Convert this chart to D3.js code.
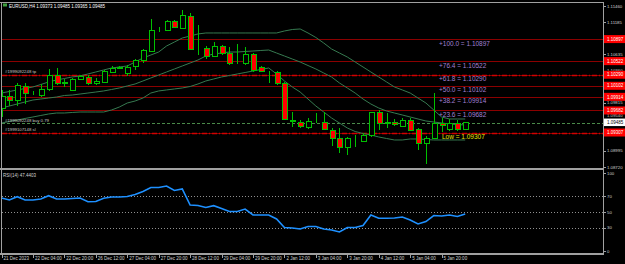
<!DOCTYPE html>
<html>
<head>
<meta charset="utf-8">
<script src="https://cdnjs.cloudflare.com/ajax/libs/d3/7.8.5/d3.min.js"></script>
<style>
  body { margin: 0; background: #000; }
  svg { display: block; }
  text { font-family: "Liberation Sans", Arial, sans-serif; }
</style>
</head>
<body>
<div id="chart"></div>
<script>
// EURUSD H4, 21 Dec 2023 12:00 .. 8 Jan 2024 08:00
const title = "EURUSD,H4  1.09373 1.09485 1.09365 1.09485";

const opens  = [1.09724,1.09920,1.09860,1.10099,1.09975,1.09945,1.10048,1.10286,1.10150,1.10031,
                1.10218,1.10252,1.10150,1.10167,1.10337,1.10410,1.10320,1.10439,1.10541,1.10694,
                1.11050,1.11052,1.11205,1.11086,1.11290,1.10728,1.10745,1.10609,1.10779,1.10660,
                1.10490,1.10490,1.10643,1.10422,1.10337,1.10337,1.10150,1.09520,1.09486,1.09401,
                1.09503,1.09486,1.09350,1.09214,1.09060,1.09197,1.09163,1.09265,1.09656,1.09469,
                1.09486,1.09418,1.09520,1.09367,1.09129,1.09214,1.09469,1.09367,1.09469,1.09373];
const highs  = [1.10031,1.10031,1.10150,1.10150,1.10014,1.10133,1.10388,1.10405,1.10218,1.10235,
                1.10286,1.10286,1.10235,1.10371,1.10439,1.10439,1.10456,1.10558,1.10728,1.11239,
                1.11103,1.11222,1.11222,1.11392,1.11341,1.11137,1.10779,1.10847,1.10790,1.10762,
                1.10813,1.10762,1.10660,1.10439,1.10354,1.10354,1.10167,1.09656,1.09520,1.09554,
                1.09639,1.09656,1.09384,1.09384,1.09231,1.09265,1.09299,1.09656,1.09690,1.09639,
                1.09537,1.09554,1.09554,1.09384,1.09248,1.09979,1.09554,1.09537,1.09520,1.09485];
const lows   = [1.09571,1.09758,1.09758,1.09792,1.09945,1.09911,1.10014,1.10116,1.10082,1.10014,
                1.10201,1.10116,1.10116,1.10150,1.10320,1.10395,1.10269,1.10371,1.10490,1.10677,
                1.11018,1.11035,1.11086,1.11069,1.10711,1.10626,1.10558,1.10592,1.10626,1.10456,
                1.10473,1.10456,1.10337,1.10337,1.10150,1.10116,1.09520,1.09401,1.09384,1.09367,
                1.09469,1.09350,1.09077,1.08958,1.08924,1.09060,1.09146,1.09231,1.09350,1.09384,
                1.09418,1.09401,1.09333,1.09009,1.08771,1.09197,1.09316,1.09333,1.09333,1.09365];
const closes = [1.09928,1.09860,1.10116,1.09979,1.09985,1.10048,1.10286,1.10150,1.10165,1.10218,
                1.10269,1.10150,1.10184,1.10354,1.10405,1.10420,1.10422,1.10541,1.10711,1.11052,
                1.11058,1.11205,1.11103,1.11307,1.10728,1.10735,1.10609,1.10779,1.10660,1.10490,
                1.10495,1.10643,1.10371,1.10354,1.10345,1.10150,1.09537,1.09510,1.09418,1.09503,
                1.09510,1.09367,1.09214,1.09060,1.09214,1.09205,1.09265,1.09650,1.09469,1.09480,
                1.09452,1.09520,1.09350,1.09129,1.09214,1.09469,1.09427,1.09469,1.09367,1.09485];

const bandUpper  = [1.09979,1.10005,1.10031,1.10056,1.10082,1.10124,1.10167,1.10201,1.10226,1.10252,
                    1.10269,1.10303,1.10337,1.10371,1.10405,1.10422,1.10439,1.10507,1.10575,1.10626,
                    1.10677,1.10779,1.10847,1.10915,1.10949,1.10984,1.11001,1.11001,1.11001,1.11001,
                    1.11001,1.11001,1.11001,1.11001,1.11001,1.11001,1.11035,1.11060,1.11069,1.11001,
                    1.10924,1.10830,1.10728,1.10660,1.10592,1.10507,1.10422,1.10337,1.10252,1.10167,
                    1.10082,1.10031,1.09979,1.09894,1.09809,1.09690,1.09571,1.09537,1.09537,1.09537];
const bandMiddle = [1.09724,1.09758,1.09792,1.09826,1.09860,1.09877,1.09894,1.09911,1.09937,1.09945,
                    1.09962,1.09979,1.09996,1.10014,1.10039,1.10065,1.10099,1.10133,1.10184,1.10235,
                    1.10286,1.10337,1.10388,1.10439,1.10490,1.10541,1.10609,1.10643,1.10660,1.10677,
                    1.10677,1.10686,1.10694,1.10703,1.10711,1.10660,1.10609,1.10558,1.10507,1.10447,
                    1.10388,1.10320,1.10252,1.10150,1.10065,1.09979,1.09877,1.09792,1.09724,1.09673,
                    1.09639,1.09605,1.09571,1.09537,1.09503,1.09486,1.09469,1.09452,1.09443,1.09435];
const bandLower  = [1.09469,1.09494,1.09520,1.09546,1.09571,1.09597,1.09622,1.09639,1.09639,1.09648,
                    1.09656,1.09656,1.09656,1.09656,1.09690,1.09741,1.09809,1.09843,1.09894,1.09979,
                    1.10014,1.10031,1.10048,1.10065,1.10090,1.10133,1.10184,1.10218,1.10252,1.10277,
                    1.10303,1.10328,1.10354,1.10379,1.10405,1.10303,1.10184,1.10082,1.09996,1.09877,
                    1.09758,1.09656,1.09554,1.09469,1.09384,1.09324,1.09290,1.09265,1.09231,1.09205,
                    1.09180,1.09180,1.09197,1.09197,1.09188,1.09180,1.09180,1.09180,1.09180,1.09180];

const rsi = [67.9,65.4,69.6,65.4,65.4,66.7,70.9,66.7,66.7,67.3,
             67.9,63.2,63.5,67.6,69.2,69.2,69.9,72.4,76.3,81.4,
             81.4,83.3,77.6,79.5,59.0,58.3,55.8,58.1,54.5,50.6,
             50.6,53.8,46.2,46.2,46.2,41.0,30.1,29.5,28.2,31.4,
             31.4,28.2,26.9,24.4,30.1,30.1,32.7,46.2,41.9,41.9,
             42.3,43.6,39.7,34.6,37.8,45.5,44.9,46.2,44.2,47.44];
const rsiLabel = "RSI(14) 47.4403";
const rsiLevels = [70, 50, 30];
const rsiTicks = [100, 70, 50, 30, 0];

const timeIdx = [0,4,8,12,16,20,24,28,32,36,40,44,48,52,56];
const timeLabels = ["21 Dec 2023","22 Dec 04:00","22 Dec 20:00","26 Dec 12:00","27 Dec 04:00",
                    "27 Dec 20:00","28 Dec 12:00","29 Dec 04:00","29 Dec 20:00","2 Jan 12:00",
                    "3 Jan 04:00","3 Jan 20:00","4 Jan 12:00","5 Jan 04:00","5 Jan 20:00"];

const priceTicks = [1.11460,1.11185,1.10635,1.10360,1.09815,1.09540,1.08995,1.08720];

const fibNames  = ["100.0","76.4","61.8","50.0","38.2","23.6"];
const fibPrices = [1.10897,1.10522,1.10290,1.10102,1.09914,1.09682];
const fibLow = 1.09307;

const orderTicket = "#1999092248", slTicket = "#1999107148";
const tpPrice = 1.10290, entryPrice = 1.09465, slPrice = 1.09307;
const bidPrice = 1.09485;

// layout
const W = 625, H = 264;
const axisX = 603;
const mainTop = 2, mainBottom = 168, subTop = 170, subBottom = 254;
const green = "#00c000", frame = "#a0a0a0", labelCol = "#d0d0d0";

const svg = d3.select("#chart").append("svg").attr("width", W).attr("height", H);
svg.append("rect").attr("width", W).attr("height", H).attr("fill", "#000");

const x = d3.scaleLinear().domain([0, 59]).range([1.5, 465.2]);
const y = d3.scaleLinear().domain([1.08720, 1.11460]).range([167, 6]);
const yR = d3.scaleLinear().domain([0, 100]).range([251, 173]);

svg.append("clipPath").attr("id", "mainClip")
  .append("rect").attr("x", 2).attr("y", mainTop).attr("width", axisX - 2).attr("height", mainBottom - mainTop);

const main = svg.append("g").attr("clip-path", "url(#mainClip)");

// fibo + order lines
fibPrices.concat([fibLow]).forEach(p => {
  main.append("line").attr("x1", 2).attr("x2", axisX).attr("y1", Math.round(y(p)) + 0.5).attr("y2", Math.round(y(p)) + 0.5)
    .attr("stroke", "#8b0000").attr("stroke-width", 1);
});
[tpPrice, slPrice].forEach(p => {
  main.append("line").attr("x1", 2).attr("x2", axisX).attr("y1", Math.round(y(p)) + 0.5).attr("y2", Math.round(y(p)) + 0.5)
    .attr("stroke", "#d00000").attr("stroke-width", 1.6).attr("stroke-dasharray", "5,2,1,2");
});
main.append("line").attr("x1", 2).attr("x2", axisX).attr("y1", Math.round(y(entryPrice)) + 0.5).attr("y2", Math.round(y(entryPrice)) + 0.5)
  .attr("stroke", "#4a8a4a").attr("stroke-width", 1).attr("stroke-dasharray", "3,2");

// bands
const band = d3.line().x((d, i) => x(i)).y(d => y(d));
[bandUpper, bandMiddle, bandLower].forEach(b => {
  main.append("path").datum(b).attr("d", band).attr("fill", "none").attr("stroke", "#367a50").attr("stroke-width", 1);
});

// candles
const idx = d3.range(opens.length);
const candle = main.append("g").attr("shape-rendering", "crispEdges").selectAll("g").data(idx).join("g");
candle.append("line")
  .attr("x1", i => Math.round(x(i)) + 0.5).attr("x2", i => Math.round(x(i)) + 0.5)
  .attr("y1", i => y(highs[i])).attr("y2", i => y(lows[i]))
  .attr("stroke", green);
candle.append("rect")
  .attr("x", i => Math.round(x(i)) - 2 + 0.5)
  .attr("width", 5)
  .attr("y", i => Math.round(y(Math.max(opens[i], closes[i]))) + 0.5)
  .attr("height", i => Math.max(0, Math.round(y(Math.min(opens[i], closes[i]))) - Math.round(y(Math.max(opens[i], closes[i])))))
  .attr("fill", i => closes[i] < opens[i] ? "#ff0000" : "#000")
  .attr("stroke", green);

// fibo texts
fibNames.forEach((n, k) => {
  main.append("text").attr("x", 439).attr("y", y(fibPrices[k]) + 6.5)
    .attr("font-size", 6.5).attr("fill", "#a080d4")
    .text("+" + n + "  = " + fibPrices[k].toFixed(5));
});
main.append("text").attr("x", 442).attr("y", y(fibLow) + 6.5)
  .attr("font-size", 6.5).attr("fill", "#e6e600").text("Low  = " + fibLow.toFixed(5));

// order labels
const orderTexts = [[tpPrice, orderTicket + " tp"], [entryPrice, orderTicket + " buy 0.79"], [slPrice, slTicket + " sl"]];
orderTexts.forEach(([p, t]) => {
  main.append("text").attr("x", 5).attr("y", y(p) - 1.5).attr("font-size", 4.3).attr("fill", "#c8c8c8").text(t);
});

// title
svg.append("rect").attr("x", 3).attr("y", 3.5).attr("width", 4).attr("height", 3).attr("fill", "#3fa03f");
svg.append("text").attr("x", 9).attr("y", 7.5).attr("font-size", 4.5).attr("fill", "#ffffff").text(title);

// RSI
const sub = svg.append("g");
rsiLevels.forEach(v => {
  sub.append("line").attr("x1", 2).attr("x2", axisX).attr("y1", Math.round(yR(v)) + 0.5).attr("y2", Math.round(yR(v)) + 0.5)
    .attr("stroke", "#909090").attr("stroke-dasharray", "1,2");
});
sub.append("path").datum(rsi)
  .attr("d", d3.line().x((d, i) => x(i)).y(d => yR(d)))
  .attr("fill", "none").attr("stroke", "#1e90ff").attr("stroke-width", 1.6);
sub.append("text").attr("x", 3).attr("y", 177).attr("font-size", 4.5).attr("fill", labelCol).text(rsiLabel);

// frames
svg.append("line").attr("x1", 0).attr("x2", axisX).attr("y1", mainTop + 0.5).attr("y2", mainTop + 0.5).attr("stroke", frame);
svg.append("line").attr("x1", 1.5).attr("x2", 1.5).attr("y1", mainTop).attr("y2", subBottom).attr("stroke", frame);
svg.append("rect").attr("x", 0).attr("y", mainBottom).attr("width", axisX + 1).attr("height", 2).attr("fill", frame);
svg.append("rect").attr("x", 0).attr("y", subBottom - 1).attr("width", axisX + 1).attr("height", 2).attr("fill", frame);
svg.append("line").attr("x1", axisX + 0.5).attr("x2", axisX + 0.5).attr("y1", mainTop).attr("y2", subBottom + 1).attr("stroke", frame);

// price axis
const pAxis = svg.append("g");
const bidY = y(bidPrice);
priceTicks.forEach(p => {
  let ty = y(p) + 1.6;
  // keep tick text clear of the bid box, as the terminal does
  if (Math.abs(y(p) - bidY) < 6.5) ty = bidY - 4.6;
  pAxis.append("line").attr("x1", axisX).attr("x2", axisX + 3).attr("y1", Math.round(y(p)) + 0.5).attr("y2", Math.round(y(p)) + 0.5).attr("stroke", frame);
  pAxis.append("text").attr("x", axisX + 4).attr("y", ty).attr("font-size", 4.3).attr("fill", labelCol).text(p.toFixed(5));
});
fibPrices.concat([fibLow]).forEach(p => {
  pAxis.append("rect").attr("x", axisX + 1).attr("y", y(p) - 4).attr("width", W - axisX - 1).attr("height", 8).attr("fill", "#ff0000");
  pAxis.append("text").attr("x", axisX + 4).attr("y", y(p) + 1.7).attr("font-size", 4.5).attr("fill", "#ffffff").text(p.toFixed(5));
});
pAxis.append("rect").attr("x", axisX + 1).attr("y", bidY - 3.5).attr("width", W - axisX - 1).attr("height", 7.5).attr("fill", "#ffffff");
pAxis.append("text").attr("x", axisX + 4).attr("y", bidY + 1.9).attr("font-size", 4.5).attr("fill", "#000").text(bidPrice.toFixed(5));

rsiTicks.forEach(v => {
  pAxis.append("line").attr("x1", axisX).attr("x2", axisX + 3).attr("y1", Math.round(yR(v)) + 0.5).attr("y2", Math.round(yR(v)) + 0.5).attr("stroke", frame);
  pAxis.append("text").attr("x", axisX + 4).attr("y", yR(v) + 1.6).attr("font-size", 4.3).attr("fill", labelCol).text(v);
});

// time axis
const tAxis = svg.append("g");
timeIdx.forEach((i, k) => {
  tAxis.append("line").attr("x1", Math.round(x(i)) + 0.5).attr("x2", Math.round(x(i)) + 0.5).attr("y1", subBottom).attr("y2", subBottom + 4).attr("stroke", frame);
  tAxis.append("text").attr("x", x(i) + 2).attr("y", 259.5).attr("font-size", 4.5).attr("fill", labelCol).text(timeLabels[k]);
});
</script>
</body>
</html>
